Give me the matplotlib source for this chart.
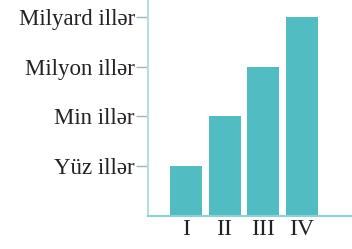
import matplotlib.pyplot as plt

eras = ["I", "II", "III", "IV"]
heights = [1, 2, 3, 4]
level_labels = ["Yüz illər", "Min illər", "Milyon illər", "Milyard illər"]
level_pos = [1, 2, 3, 4]


def main():
    plt.rcParams["font.family"] = ["Liberation Serif", "DejaVu Serif"]
    fig = plt.figure(figsize=(3.52, 2.49), dpi=100)
    ax = fig.add_axes([0.4205, 0.1325, 0.5795, 0.8675])

    x = range(len(eras))
    ax.bar(x, heights, width=0.83, color="#52bcc3")

    ax.set_xlim(-0.987, 4.31)
    ax.set_ylim(0, 4.34)
    ax.set_xticks(list(x))
    ax.set_xticklabels(eras, fontsize=17)
    ax.set_yticks(level_pos)
    ax.set_yticklabels(level_labels, fontsize=16.5)

    ax.tick_params(axis="x", length=0, pad=2, colors="#222222")
    ax.tick_params(axis="y", length=8.5, width=1, color="#9ab8bc", pad=1, labelcolor="#222222")

    for side in ["top", "right"]:
        ax.spines[side].set_visible(False)
    ax.spines["left"].set_color("#b5dde1")
    ax.spines["bottom"].set_color("#8fd0d5")
    ax.spines["left"].set_linewidth(1.5)
    ax.spines["bottom"].set_linewidth(1.5)

    fig.savefig("out.png", dpi=100)
    plt.close(fig)


if __name__ == "__main__":
    main()
